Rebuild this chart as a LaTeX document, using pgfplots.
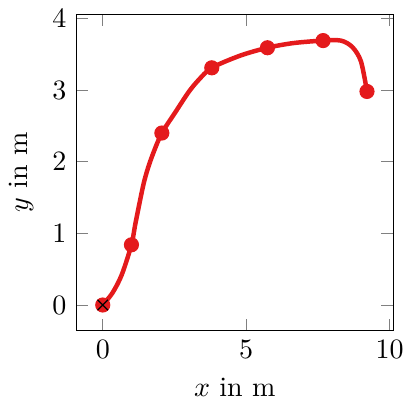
\documentclass[border=0pt]{standalone}
\usepackage{pgfplots}
\pgfplotsset{compat=1.18}
\definecolor{setred}{HTML}{E41A1C}
\begin{document}
\begin{tikzpicture}
\begin{axis}[
    scale only axis,
    width=113pt,
    height=113pt,
    xmin=-0.92, xmax=10.12,
    ymin=-0.36, ymax=4.06,
    xlabel={$x$ in m},
    ylabel={$y$ in m},
    xtick={0,5,10},
    ytick={0,1,2,3,4},
]
% trajectory
\addplot[setred, ultra thick, smooth] coordinates {
    (0,0) (0.34,0.17) (0.66,0.42) (1,0.84) (1.14,1.14) (1.40,1.65)
    (1.56,1.89) (1.77,2.13) (2.06,2.40) (2.53,2.69) (2.99,2.97)
    (3.34,3.14) (3.80,3.31) (4.79,3.48) (5.74,3.59) (6.64,3.655)
    (7.68,3.69) (8.30,3.69) (8.70,3.60) (9.00,3.40) (9.21,2.98)
};
% sample points
\addplot[only marks, mark=*, mark size=2.5pt, setred,
    mark options={fill=setred, draw=setred}] coordinates {
    (0,0) (1,0.84) (2.06,2.40) (3.80,3.31) (5.74,3.59) (7.68,3.69) (9.21,2.98)
};
\addplot[only marks, black, mark=x, mark size=2.6pt] coordinates {(0,0)};
\end{axis}
\end{tikzpicture}
\end{document}
